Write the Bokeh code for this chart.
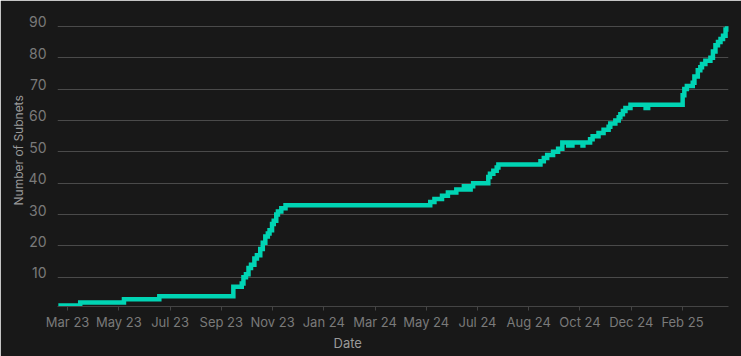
import datetime as dt
from bokeh.plotting import figure
from bokeh.models import (ColumnDataSource, FixedTicker, Range1d, Title)
from bokeh.embed import file_html
from bokeh.resources import INLINE

# ---- data (day offset from 2023-03-01, subnet count after that day) ----
start = dt.datetime(2023, 3, 1)
change_days = [-11, 15, 67, 109, 197, 207, 209, 212, 215, 218, 222, 225, 229, 232,
               235, 238, 240, 243, 245, 248, 250, 254, 259, 431, 436, 445, 452,
               462, 471, 475, 479, 482, 500, 502, 506, 510, 512, 562, 566, 570,
               577, 583, 588, 595, 600, 612, 613, 621, 624, 631, 637, 643, 645,
               651, 655, 657, 660, 663, 669, 687, 690, 731, 733, 736, 743, 745,
               749, 752, 754, 758, 764, 767, 770, 773, 776, 779, 782, 784]
subnets = [1, 2, 3, 4, 7, 8, 10, 11, 13, 14, 16, 17, 19, 21,
           23, 24, 25, 27, 28, 30, 31, 32, 33, 34, 35, 36, 37,
           38, 39, 38, 39, 40, 42, 43, 44, 45, 46, 47, 48, 49,
           50, 51, 53, 52, 53, 52, 53, 54, 55, 56, 57, 58, 59,
           60, 61, 62, 63, 64, 65, 64, 65, 68, 70, 71, 72, 74,
           76, 77, 78, 79, 80, 82, 84, 85, 86, 87, 89, 90]

tick_day_offsets = [0, 60.9, 121.8, 182.7, 243.6, 304.5, 365.4, 426.3,
                    487.2, 548.1, 609.0, 669.9, 730.8]
tick_labels = ["Mar 23", "May 23", "Jul 23", "Sep 23", "Nov 23", "Jan 24",
               "Mar 24", "May 24", "Jul 24", "Aug 24", "Oct 24", "Dec 24", "Feb 25"]
y_ticks = [10, 20, 30, 40, 50, 60, 70, 80, 90]
y_tick_labels = ["10", "20", "30", "40", "50", "60", "70", "80", "90"]

X_START_DAY, X_END_DAY = -12, 785.5
Y_START, Y_END = 0.7, 92.5
W, H = 741, 356
BL, BR, BT, BB = 57, 13, 18, 50


def to_ms(d):
    return (start + dt.timedelta(days=d)).timestamp() * 1000.0


dates = [start + dt.timedelta(days=d) for d in change_days]
src = ColumnDataSource(dict(date=dates, subnets=subnets))

BG = "#181818"
FONT = "Inter"
GRID = "#4a4a4a"
AXIS = "#444444"

p = figure(width=W, height=H, x_axis_type="datetime",
           output_backend="svg", toolbar_location=None,
           x_range=Range1d(to_ms(X_START_DAY), to_ms(X_END_DAY)),
           y_range=Range1d(Y_START, Y_END),
           background_fill_color=BG, border_fill_color=BG,
           outline_line_color=BG, outline_line_width=2,
           min_border_left=BL, min_border_right=BR,
           min_border_top=BT, min_border_bottom=BB)

px_per_unit = (H - BT - BB) / (Y_END - Y_START)

# horizontal grid lines
p.hspan(y=y_ticks, line_color=GRID, line_width=1)

p.step(x="date", y="subnets", source=src, mode="after",
       line_color="#00D4B4", line_width=4.5, line_join="miter")

# x axis
tick_ms = [to_ms(d) for d in tick_day_offsets]
xa = p.xaxis[0]
xa.ticker = FixedTicker(ticks=tick_ms)
xa.major_label_overrides = {t: l for t, l in zip(tick_ms, tick_labels)}
xa.axis_line_color = AXIS
xa.major_tick_line_color = AXIS
xa.major_tick_out = 4
xa.major_tick_in = 0
xa.minor_tick_line_color = None
xa.major_label_text_color = "#7a7a7a"
xa.major_label_text_font = FONT
xa.major_label_text_font_size = "13px"
xa.major_label_standoff = 3

# y axis: labels sit a few pixels above their grid lines
shift = 4.5 / px_per_unit
label_pos = [v + shift for v in y_ticks]
ya = p.yaxis[0]
ya.ticker = FixedTicker(ticks=label_pos)
ya.major_label_overrides = {t: l for t, l in zip(label_pos, y_tick_labels)}
ya.axis_line_color = None
ya.major_tick_line_color = None
ya.minor_tick_line_color = None
ya.major_label_text_color = "#7a7a7a"
ya.major_label_text_font = FONT
ya.major_label_text_font_size = "14px"
ya.major_label_standoff = 5

p.xgrid.grid_line_color = None
p.ygrid.grid_line_color = None

# axis titles
p.add_layout(Title(text="Date", align="left", offset=276, text_color="#9a9a9a",
                   text_font=FONT, text_font_size="13px", text_font_style="normal",
                   standoff=0), "below")
p.add_layout(Title(text="Number of Subnets", align="left", offset=101,
                   text_color="#9a9a9a", text_font=FONT, text_font_size="12px",
                   text_font_style="normal", standoff=0), "left")

open("out.html", "w").write(file_html(p, INLINE))
